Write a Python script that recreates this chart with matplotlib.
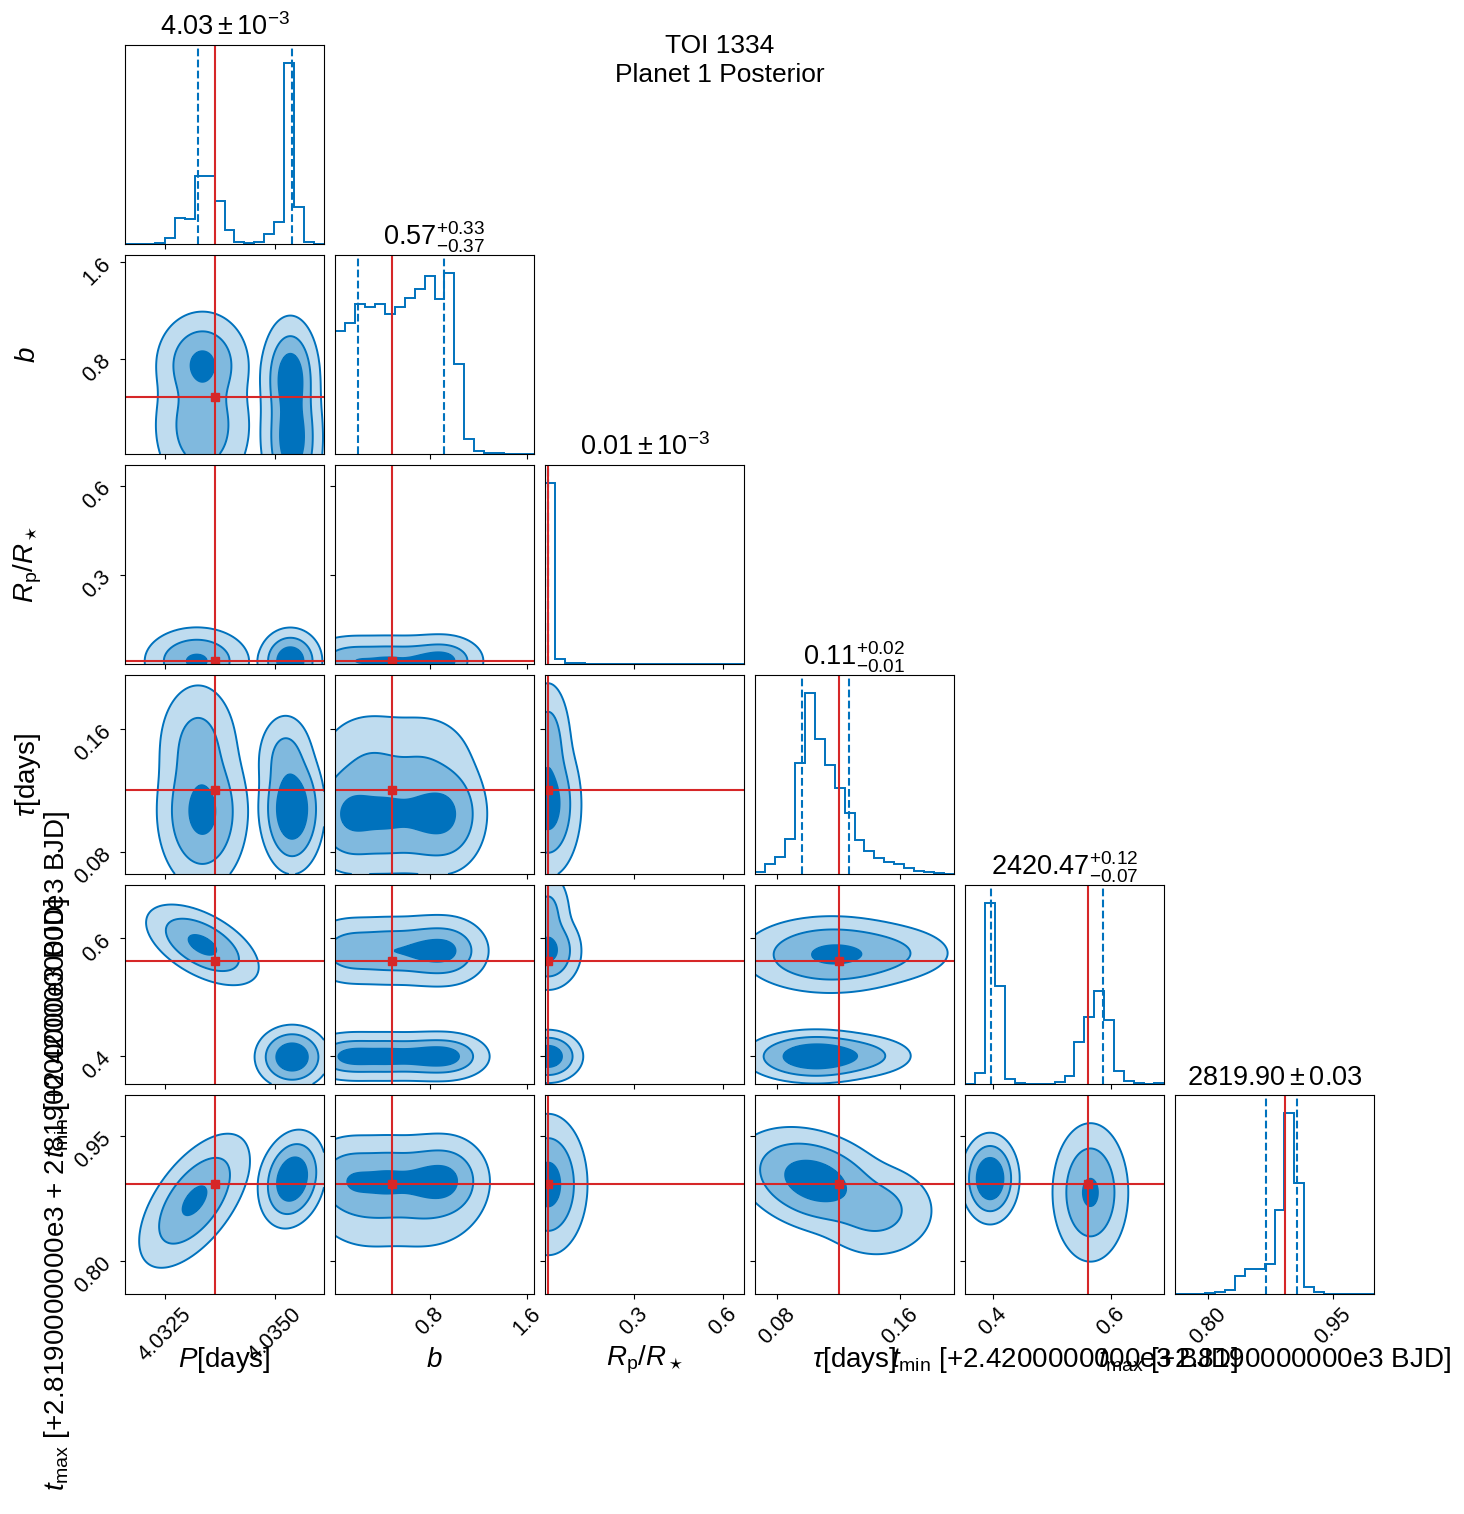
import numpy as np
import matplotlib
matplotlib.use("Agg")
import matplotlib.pyplot as plt
from matplotlib.ticker import FixedLocator, FixedFormatter, NullLocator

plt.rcParams['font.family'] = ['Liberation Sans', 'DejaVu Sans']
plt.rcParams['mathtext.fontset'] = 'custom'
plt.rcParams['mathtext.rm'] = 'Liberation Sans'
plt.rcParams['mathtext.it'] = 'Liberation Sans:italic'
plt.rcParams['mathtext.bf'] = 'Liberation Sans:bold'

# ---------------- data ----------------
labels = [r"$P$[days]", r"$b$", r"$R_\mathrm{p}/R_\star$", r"$\tau$[days]",
          r"$t_\mathrm{min}$ [+2.4200000000e3 BJD]",
          r"$t_\mathrm{max}$ [+2.8190000000e3 BJD]"]
ylabels = [None, r"$b$", r"$R_\mathrm{p}/R_\star$", r"$\tau$[days]",
           r"$t_\mathrm{min}$ [+2.4200000000e3 BJD]",
           r"$t_\mathrm{max}$ [+2.8190000000e3 + 2.8190000000e3 BJD]"]
titles = [r"$4.03\pm10^{-3}$", r"$0.57^{+0.33}_{-0.37}$", r"$0.01\pm10^{-3}$",
          r"$0.11^{+0.02}_{-0.01}$", r"$2420.47^{+0.12}_{-0.07}$", r"$2819.90\pm0.03$"]
suptitle = "TOI 1334\nPlanet 1 Posterior"

ranges = [(4.03158, 4.03613), (0.018, 1.655), (0.0, 0.67),
          (0.0658, 0.1952), (0.352, 0.691), (0.760, 0.999)]
truths = [4.03364, 0.486, 0.0105, 0.1205, 0.561, 0.8926]
q_lo = [4.03324, 0.209, 0.0095, 0.0962, 0.3963, 0.869]
q_hi = [4.03540, 0.911, 0.0115, 0.1267, 0.587, 0.906]

ticks = [[4.0325, 4.0350], [0.8, 1.6], [0.3, 0.6], [0.08, 0.16], [0.4, 0.6], [0.80, 0.95]]
tick_labels = [["4.0325", "4.0350"], ["0.8", "1.6"], ["0.3", "0.6"],
               ["0.08", "0.16"], ["0.4", "0.6"], ["0.80", "0.95"]]

hist_P = [0, 0, 1, 3, 18, 80, 77, 207, 207, 130, 43, 7, 3, 7, 30, 68, 547, 113, 7, 0]
hist_b = [373, 396, 455, 443, 455, 422, 445, 473, 500, 539, 469, 547, 271, 45, 8, 2, 3, 1, 0, 0]
hist_Rp = [547, 14, 3, 3, 1, 0, 0, 0, 0, 0, 0, 0, 0, 0, 0, 0, 0, 0, 0, 0]
hist_tau = [5, 30, 50, 107, 335, 547, 408, 329, 259, 184, 102, 71, 47, 37, 30, 18, 8, 6, 4, 1]
hist_tmin = [0, 32, 547, 295, 16, 4, 0, 0, 0, 6, 24, 127, 203, 282, 195, 38, 9, 4, 1, 2]
hist_tmax = [0, 0, 1, 3, 7, 13, 53, 75, 75, 92, 254, 547, 336, 21, 6, 1, 0, 0, 0, 0]
hists = [hist_P, hist_b, hist_Rp, hist_tau, hist_tmin, hist_tmax]

# 2-D posterior density components: (x mean, y mean, x sd, y sd, corr, weight)
blobs_b_P = [(4.03335, 0.76, 0.00039, 0.16, 0, 1.0), (4.03335, 0.25, 0.00042, 0.22, 0, 1.0),
             (4.03536, 0.65, 0.00024, 0.18, 0, 1.0), (4.03540, 0.15, 0.00025, 0.22, 0, 1.3)]
blobs_Rp_P = [(4.03322, 0.01, 0.00042, 0.040, 0, 1.0), (4.03536, 0.01, 0.00024, 0.037, 0, 1.0)]
blobs_tau_P = [(4.03335, 0.106, 0.00037, 0.018, 0, 1.0), (4.03325, 0.148, 0.00036, 0.017, 0, 0.3),
               (4.03540, 0.108, 0.00025, 0.014, 0, 1.0), (4.03525, 0.140, 0.00025, 0.012, 0, 0.15)]
blobs_tmin_P = [(4.03335, 0.589, 0.00045, 0.024, -0.55, 1.0), (4.03540, 0.398, 0.00028, 0.018, 0, 1.0)]
blobs_tmax_P = [(4.03317, 0.872, 0.00044, 0.028, 0.6, 1.0), (4.03540, 0.898, 0.00025, 0.019, 0.2, 1.0)]
blobs_Rp_b = [(0.15, 0.01, 0.15, 0.0335, 0, 1.0), (0.45, 0.01, 0.15, 0.0335, 0, 1.0),
              (0.75, 0.01, 0.15, 0.0335, 0, 1.0), (0.93, 0.01, 0.12, 0.0335, 0, 0.9)]
blobs_tau_b = [(0.15, 0.1046, 0.15, 0.015, 0, 1.2), (0.45, 0.1046, 0.15, 0.015, 0, 1.0),
               (0.75, 0.1046, 0.15, 0.015, 0, 1.0), (0.95, 0.1046, 0.13, 0.015, 0, 0.8),
               (0.30, 0.140, 0.2, 0.015, 0, 0.35), (0.75, 0.140, 0.2, 0.015, 0, 0.3)]
blobs_tmin_b = [(0.15, 0.579, 0.15, 0.0225, 0, 0.9), (0.45, 0.579, 0.15, 0.0225, 0, 1.0),
                (0.75, 0.579, 0.15, 0.0225, 0, 1.2), (0.95, 0.579, 0.13, 0.0225, 0, 1.0),
                (0.15, 0.399, 0.15, 0.0153, 0, 1.1), (0.45, 0.399, 0.15, 0.0153, 0, 1.0),
                (0.75, 0.399, 0.15, 0.0153, 0, 1.0), (0.95, 0.399, 0.13, 0.0153, 0, 0.8)]
blobs_tmax_b = [(0.15, 0.896, 0.15, 0.0205, 0, 1.0), (0.45, 0.896, 0.15, 0.0205, 0, 1.0),
                (0.75, 0.896, 0.15, 0.0205, 0, 1.0), (0.95, 0.896, 0.13, 0.0205, 0, 0.9),
                (0.30, 0.860, 0.2, 0.022, 0, 0.3), (0.75, 0.860, 0.2, 0.022, 0, 0.3)]
blobs_tau_Rp = [(0.01, 0.111, 0.04, 0.0168, 0, 1.0), (0.01, 0.150, 0.03, 0.016, 0, 0.3)]
blobs_tmin_Rp = [(0.01, 0.579, 0.04, 0.0237, 0, 1.0), (0.01, 0.640, 0.03, 0.03, 0, 0.3),
                 (0.01, 0.399, 0.04, 0.0153, 0, 1.0)]
blobs_tmax_Rp = [(0.01, 0.8915, 0.045, 0.0287, 0, 1.0)]
blobs_tmin_tau = [(0.1146, 0.5724, 0.0207, 0.0237, 0, 1.0), (0.145, 0.575, 0.02, 0.02, 0, 0.25),
                  (0.1046, 0.399, 0.0155, 0.0153, 0, 1.0), (0.13, 0.40, 0.015, 0.014, 0, 0.2)]
blobs_tmax_tau = [(0.1046, 0.896, 0.0175, 0.022, -0.3, 1.0), (0.145, 0.860, 0.0150, 0.022, 0, 0.2)]
blobs_tmax_tmin = [(0.3947, 0.8986, 0.016, 0.0175, 0, 1.0), (0.5656, 0.882, 0.0225, 0.029, 0, 1.0)]

blobs = {(1, 0): blobs_b_P, (2, 0): blobs_Rp_P, (3, 0): blobs_tau_P, (4, 0): blobs_tmin_P,
         (5, 0): blobs_tmax_P, (2, 1): blobs_Rp_b, (3, 1): blobs_tau_b, (4, 1): blobs_tmin_b,
         (5, 1): blobs_tmax_b, (3, 2): blobs_tau_Rp, (4, 2): blobs_tmin_Rp, (5, 2): blobs_tmax_Rp,
         (4, 3): blobs_tmin_tau, (5, 3): blobs_tmax_tau, (5, 4): blobs_tmax_tmin}

mass_levels = [0.393, 0.865, 0.989]

# ---------------- style ----------------
BLUE = "#0072BD"
RED = "#d62728"
rgb = np.array(matplotlib.colors.to_rgb(BLUE))
LIGHT = tuple(1 - 0.25 * (1 - rgb))
MED = tuple(1 - 0.5 * (1 - rgb))

W, H = 1464, 1514
fig = plt.figure(figsize=(W / 100, H / 100), dpi=100)
K = 6
ax_left0, ax_top0, size, pitch = 125, 45, 199, 210

tick_fs = 15.5
label_fs = 20
title_fs = 19.5


def density(comps, xr, yr, n=160):
    x = np.linspace(xr[0], xr[1], n)
    y = np.linspace(yr[0], yr[1], n)
    X, Y = np.meshgrid(x, y)
    Z = np.zeros_like(X)
    for mx, my, sx, sy, rho, w in comps:
        dx = (X - mx) / sx
        dy = (Y - my) / sy
        q = (dx ** 2 - 2 * rho * dx * dy + dy ** 2) / (1 - rho ** 2)
        Z += w / (sx * sy * np.sqrt(1 - rho ** 2)) * np.exp(-0.5 * q)
    return X, Y, Z


def mass_thresholds(Z, levels):
    flat = np.sort(Z.ravel())[::-1]
    cs = np.cumsum(flat)
    cs /= cs[-1]
    V = [flat[min(np.searchsorted(cs, lv), len(flat) - 1)] for lv in levels]
    return sorted(V)


for i in range(K):
    for j in range(i + 1):
        l = ax_left0 + pitch * j
        t = ax_top0 + pitch * i
        ax = fig.add_axes([l / W, 1 - (t + size) / H, size / W, size / H])
        xr = ranges[j]
        if i == j:
            edges = np.linspace(xr[0], xr[1], len(hists[j]) + 1)
            centers = 0.5 * (edges[1:] + edges[:-1])
            ax.hist(centers, bins=edges, weights=hists[j], histtype="step", color=BLUE, lw=1.4)
            ax.set_ylim(0, 1.1 * max(hists[j]))
            ax.axvline(q_lo[j], color=BLUE, ls="--", lw=1.5)
            ax.axvline(q_hi[j], color=BLUE, ls="--", lw=1.5)
            ax.axvline(truths[j], color=RED, lw=1.5)
            ax.set_title(titles[j], fontsize=title_fs, pad=7)
            ax.yaxis.set_major_locator(NullLocator())
        else:
            yr = ranges[i]
            X, Y, Z = density(blobs[(i, j)], xr, yr)
            V = mass_thresholds(Z, mass_levels)
            ax.contourf(X, Y, Z, levels=[V[0], V[1], V[2], Z.max() * 1.0001],
                        colors=[LIGHT, MED, BLUE])
            ax.contour(X, Y, Z, levels=V, colors=BLUE, linewidths=1.4)
            ax.axvline(truths[j], color=RED, lw=1.5)
            ax.axhline(truths[i], color=RED, lw=1.5)
            ax.plot(truths[j], truths[i], "s", color=RED, ms=6)
            ax.set_ylim(*yr)
            ax.yaxis.set_major_locator(FixedLocator(ticks[i]))
            if j == 0:
                ax.yaxis.set_major_formatter(FixedFormatter(tick_labels[i]))
                for lab in ax.get_yticklabels():
                    lab.set_rotation(45)
                    lab.set_fontsize(tick_fs)
                long = i >= 4
                ax.set_ylabel(ylabels[i], fontsize=label_fs, va="center", ha="center")
                xc = 57 if long else 28
                ax.yaxis.set_label_coords((xc - l) / size, 0.5)
            else:
                ax.set_yticklabels([])
        ax.set_xlim(*xr)
        ax.xaxis.set_major_locator(FixedLocator(ticks[j]))
        if i == K - 1:
            ax.xaxis.set_major_formatter(FixedFormatter(tick_labels[j]))
            for lab in ax.get_xticklabels():
                lab.set_rotation(45)
                lab.set_fontsize(tick_fs)
            ax.set_xlabel(labels[j], fontsize=label_fs, va="center")
            ax.xaxis.set_label_coords(0.5, (1294 - 1360) / size)
        else:
            ax.set_xticklabels([])

fig.text(720 / W, 1 - 34 / H, suptitle, ha="center", va="top", fontsize=19, linespacing=1.25)

fig.savefig("out.png", dpi=100)
